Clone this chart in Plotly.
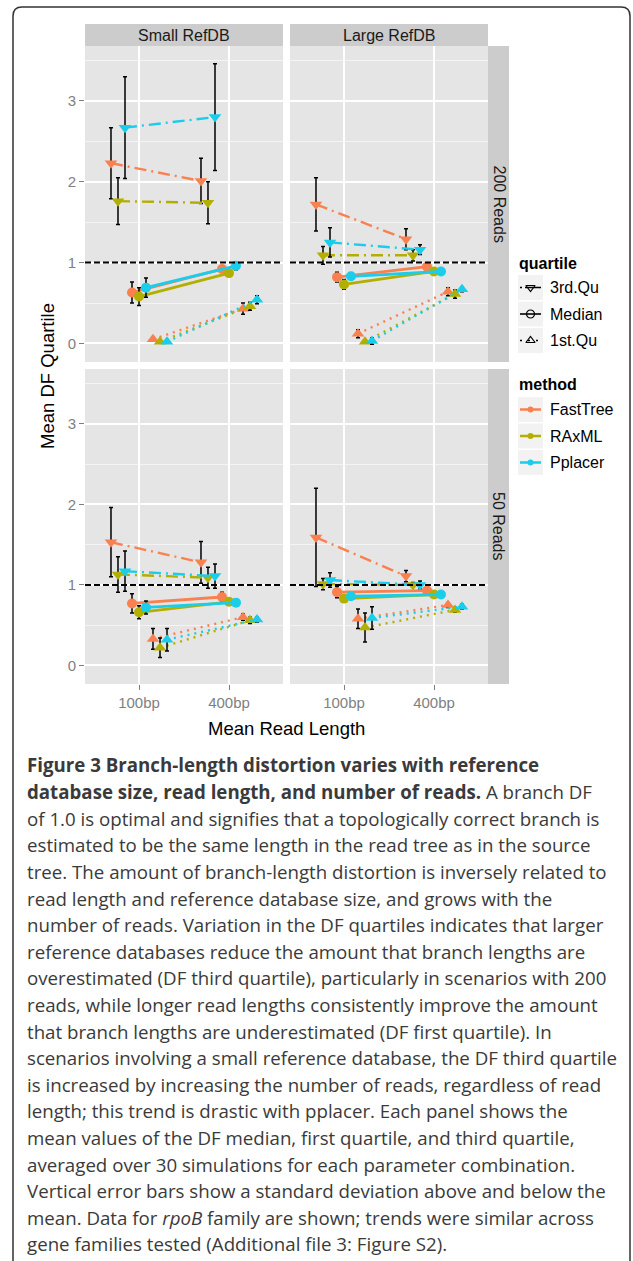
import plotly.graph_objects as go

# ---------------- data ----------------
methods = ["FastTree", "RAxML", "Pplacer"]
quartiles = ["3rd.Qu", "Median", "1st.Qu"]
read_lengths = ["100bp", "400bp"]
refdbs = ["Small RefDB", "Large RefDB"]
read_counts = ["200 Reads", "50 Reads"]

# rows: 3rd.Qu (FastTree, RAxML, Pplacer), Median (...), 1st.Qu (...); cols: 100bp, 400bp
small200_mean = [[2.23, 2.01], [1.76, 1.74], [2.67, 2.80],
                 [0.63, 0.92], [0.58, 0.87], [0.69, 0.96],
                 [0.05, 0.43], [0.02, 0.46], [0.02, 0.54]]
small200_sd = [[0.44, 0.28], [0.29, 0.26], [0.63, 0.66],
               [0.13, 0.03], [0.11, 0.03], [0.12, 0.05],
               [0.01, 0.07], [0.01, 0.05], [0.01, 0.05]]
large200_mean = [[1.72, 1.29], [1.09, 1.09], [1.25, 1.16],
                 [0.82, 0.95], [0.73, 0.89], [0.83, 0.89],
                 [0.12, 0.64], [0.02, 0.61], [0.03, 0.67]]
large200_sd = [[0.33, 0.13], [0.11, 0.07], [0.18, 0.06],
               [0.06, 0.02], [0.06, 0.02], [0.04, 0.02],
               [0.05, 0.05], [0.01, 0.05], [0.04, 0.03]]
small50_mean = [[1.53, 1.28], [1.13, 1.09], [1.17, 1.11],
                [0.77, 0.85], [0.66, 0.79], [0.72, 0.78],
                [0.33, 0.60], [0.22, 0.56], [0.32, 0.57]]
small50_sd = [[0.43, 0.26], [0.22, 0.13], [0.25, 0.15],
              [0.12, 0.06], [0.08, 0.03], [0.08, 0.03],
              [0.13, 0.04], [0.12, 0.04], [0.14, 0.03]]
large50_mean = [[1.59, 1.11], [1.01, 1.00], [1.06, 1.00],
                [0.91, 0.93], [0.83, 0.88], [0.86, 0.88],
                [0.58, 0.75], [0.47, 0.69], [0.59, 0.73]]
large50_sd = [[0.61, 0.07], [0.07, 0.03], [0.09, 0.05],
              [0.07, 0.02], [0.03, 0.02], [0.03, 0.02],
              [0.12, 0.03], [0.18, 0.03], [0.14, 0.03]]

caption_lines = [
    "<b>Figure 3 Branch-length distortion varies with reference</b>",
    "<b>database size, read length, and number of reads.</b> A branch DF",
    "of 1.0 is optimal and signifies that a topologically correct branch is",
    "estimated to be the same length in the read tree as in the source",
    "tree. The amount of branch-length distortion is inversely related to",
    "read length and reference database size, and grows with the",
    "number of reads. Variation in the DF quartiles indicates that larger",
    "reference databases reduce the amount that branch lengths are",
    "overestimated (DF third quartile), particularly in scenarios with 200",
    "reads, while longer read lengths consistently improve the amount",
    "that branch lengths are underestimated (DF first quartile). In",
    "scenarios involving a small reference database, the DF third quartile",
    "is increased by increasing the number of reads, regardless of read",
    "length; this trend is drastic with pplacer. Each panel shows the",
    "mean values of the DF median, first quartile, and third quartile,",
    "averaged over 30 simulations for each parameter combination.",
    "Vertical error bars show a standard deviation above and below the",
    "mean. Data for <i>rpoB</i> family are shown; trends were similar across",
    "gene families tested (Additional file 3: Figure S2).",
]

# ---------------- style ----------------
W, H = 633, 1261
colors = {"FastTree": "#F9804F", "RAxML": "#B3AF00", "Pplacer": "#1ACDEA"}
dashes = {"3rd.Qu": "12px,5px,2px,5px", "Median": "solid", "1st.Qu": "2px,5px"}
widths = {"3rd.Qu": 2.4, "Median": 2.8, "1st.Qu": 2.4}
symbols = {"3rd.Qu": "triangle-down", "Median": "circle", "1st.Qu": "triangle-up"}
DODGE = 0.0778
TXT = "Liberation Sans, Arial, sans-serif"


def px(x):
    return x / W


def py(y):
    return 1 - y / H


fig = go.Figure()

panels = [
    ("x", "y", small200_mean, small200_sd),
    ("x2", "y2", large200_mean, large200_sd),
    ("x3", "y3", small50_mean, small50_sd),
    ("x4", "y4", large50_mean, large50_sd),
]

for xa, ya, means, sds in panels:
    for qi, q in enumerate(quartiles):
        for mi, m in enumerate(methods):
            k = qi * 3 + mi
            off = (k - 4) * DODGE
            fig.add_trace(go.Scatter(
                x=[1 + off, 2 + off], y=means[k], xaxis=xa, yaxis=ya,
                mode="lines+markers", showlegend=False,
                line=dict(color=colors[m], width=widths[q], dash=dashes[q]),
                marker=dict(symbol=symbols[q], size=11 if q != "Median" else 10,
                            color=colors[m], line=dict(width=0)),
                error_y=dict(type="data", array=sds[k], color="black",
                             thickness=1.5, width=2),
                hoverinfo="skip",
            ))

# axes
xdom = [[px(85), px(283)], [px(290), px(488)]]
ydom = [[py(362), py(46)], [py(684), py(369)]]
axis_ids = [("xaxis", "yaxis", 0, 0), ("xaxis2", "yaxis2", 1, 0),
            ("xaxis3", "yaxis3", 0, 1), ("xaxis4", "yaxis4", 1, 1)]
layout_axes = {}
for i, (xn, yn, c, r) in enumerate(axis_ids):
    xref = "x" if i == 0 else f"x{i+1}"
    yref = "y" if i == 0 else f"y{i+1}"
    layout_axes[xn] = dict(
        domain=xdom[c], anchor=yref, range=[0.4, 2.6],
        tickvals=[1, 2], ticktext=read_lengths,
        showticklabels=(r == 1), ticks="outside" if r == 1 else "",
        ticklen=5, tickwidth=1.2, tickcolor="#7F7F7F",
        tickfont=dict(family=TXT, size=15, color="#7F7F7F"),
        showgrid=True, gridcolor="white", gridwidth=1.6,
        zeroline=False, showline=False, fixedrange=True,
    )
    layout_axes[yn] = dict(
        domain=ydom[r], anchor=xref, range=[-0.23, 3.68],
        tickvals=[0, 1, 2, 3], ticktext=["0", "1", "2", "3"],
        showticklabels=(c == 0), ticks="outside" if c == 0 else "",
        ticklen=5, tickwidth=1.2, tickcolor="#7F7F7F",
        tickfont=dict(family=TXT, size=15, color="#7F7F7F"),
        showgrid=True, gridcolor="white", gridwidth=1.6,
        minor=dict(tickvals=[0.5, 1.5, 2.5, 3.5], showgrid=True,
                   gridcolor="#F4F4F4", gridwidth=0.8, ticks=""),
        zeroline=False, showline=False, fixedrange=True,
    )

# legend helper axis (pixel units)
layout_axes["xaxis5"] = dict(domain=[px(518), px(543)], range=[518, 543],
                             anchor="y5", visible=False, fixedrange=True)
layout_axes["yaxis5"] = dict(domain=[py(480), py(270)], range=[480, 270],
                             anchor="x5", visible=False, fixedrange=True)

shapes = []
annotations = []

# panel backgrounds and reference lines
for i in range(4):
    xref = "x" if i == 0 else f"x{i+1}"
    yref = "y" if i == 0 else f"y{i+1}"
    shapes.append(dict(type="rect", xref=f"{xref} domain", yref=f"{yref} domain",
                       x0=0, x1=1, y0=0, y1=1, fillcolor="#E5E5E5",
                       line=dict(width=0), layer="below"))
    shapes.append(dict(type="line", xref=f"{xref} domain", yref=yref,
                       x0=0, x1=1, y0=1, y1=1,
                       line=dict(color="black", width=2, dash="6px,3px"),
                       layer="above"))

# strips
for c, lab in enumerate(refdbs):
    shapes.append(dict(type="rect", xref="paper", yref="paper",
                       x0=xdom[c][0], x1=xdom[c][1], y0=py(46), y1=py(24),
                       fillcolor="#CCCCCC", line=dict(width=0)))
    annotations.append(dict(text=lab, xref="paper", yref="paper",
                            x=(xdom[c][0] + xdom[c][1]) / 2, y=py(35),
                            showarrow=False, xanchor="center", yanchor="middle",
                            font=dict(family=TXT, size=16, color="#1A1A1A")))
for r, lab in enumerate(read_counts):
    shapes.append(dict(type="rect", xref="paper", yref="paper",
                       x0=px(488), x1=px(509), y0=ydom[r][0], y1=ydom[r][1],
                       fillcolor="#CCCCCC", line=dict(width=0)))
    annotations.append(dict(text=lab, xref="paper", yref="paper",
                            x=px(498.5), y=(ydom[r][0] + ydom[r][1]) / 2,
                            textangle=90, showarrow=False,
                            xanchor="center", yanchor="middle",
                            font=dict(family=TXT, size=16, color="#1A1A1A")))

# axis titles
annotations.append(dict(text="Mean Read Length", xref="paper", yref="paper",
                        x=px(286), y=py(729), showarrow=False,
                        xanchor="center", yanchor="middle",
                        font=dict(family=TXT, size=18.5, color="black")))
annotations.append(dict(text="Mean DF Quartile", xref="paper", yref="paper",
                        x=px(47), y=py(376), textangle=-90, showarrow=False,
                        xanchor="center", yanchor="middle",
                        font=dict(family=TXT, size=18.5, color="black")))

# legends (drawn on helper axis in pixel units)
q_centers = [287.5, 314, 340.5]
m_centers = [409.5, 436, 462.5]
annotations.append(dict(text="<b>quartile</b>", xref="paper", yref="paper",
                        x=px(517), y=py(263), showarrow=False,
                        xanchor="left", yanchor="middle",
                        font=dict(family=TXT, size=16, color="black")))
annotations.append(dict(text="<b>method</b>", xref="paper", yref="paper",
                        x=px(517), y=py(384), showarrow=False,
                        xanchor="left", yanchor="middle",
                        font=dict(family=TXT, size=16, color="black")))
for cy in q_centers + m_centers:
    shapes.append(dict(type="rect", xref="x5", yref="y5",
                       x0=518, x1=543, y0=cy - 12.5, y1=cy + 12.5,
                       fillcolor="#F2F2F2", line=dict(width=0), layer="below"))
key_dash = {"3rd.Qu": "2px,3px,16px,3px", "Median": "solid", "1st.Qu": "2px,6px"}
open_sym = {"3rd.Qu": "triangle-down-open", "Median": "circle-open",
            "1st.Qu": "triangle-up-open"}
for q, cy in zip(quartiles, q_centers):
    fig.add_trace(go.Scatter(x=[520, 541], y=[cy, cy], xaxis="x5", yaxis="y5",
                             mode="lines", showlegend=False, hoverinfo="skip",
                             line=dict(color="black", width=1.6, dash=key_dash[q])))
    fig.add_trace(go.Scatter(x=[530.5], y=[cy], xaxis="x5", yaxis="y5",
                             mode="markers", showlegend=False, hoverinfo="skip",
                             marker=dict(symbol=open_sym[q], size=8, color="black",
                                         line=dict(width=1.2, color="black"))))
    annotations.append(dict(text=q, xref="paper", yref="paper",
                            x=px(548), y=py(cy), showarrow=False,
                            xanchor="left", yanchor="middle",
                            font=dict(family=TXT, size=16, color="black")))
for m, cy in zip(methods, m_centers):
    fig.add_trace(go.Scatter(x=[520, 530.5, 541], y=[cy, cy, cy], xaxis="x5", yaxis="y5",
                             mode="lines", showlegend=False, hoverinfo="skip",
                             line=dict(color=colors[m], width=2.5)))
    fig.add_trace(go.Scatter(x=[530.5], y=[cy], xaxis="x5", yaxis="y5",
                             mode="markers", showlegend=False, hoverinfo="skip",
                             marker=dict(symbol="circle", size=6, color=colors[m])))
    annotations.append(dict(text=m, xref="paper", yref="paper",
                            x=px(548), y=py(cy), showarrow=False,
                            xanchor="left", yanchor="middle",
                            font=dict(family=TXT, size=16, color="black")))

# caption
for i, line in enumerate(caption_lines):
    annotations.append(dict(text=line, xref="paper", yref="paper",
                            x=px(25), y=py(765 + 26.6 * i), showarrow=False,
                            xanchor="left", yanchor="middle",
                            font=dict(family="Open Sans", size=18.7, color="#3A3A3A")))

# frame
fx0, fx1, fy0, r = 13, 630, 7, 9
path = (f"M {px(fx0)},{py(H)} L {px(fx0)},{py(fy0 + r)} "
        f"Q {px(fx0)},{py(fy0)} {px(fx0 + r)},{py(fy0)} "
        f"L {px(fx1 - r)},{py(fy0)} Q {px(fx1)},{py(fy0)} {px(fx1)},{py(fy0 + r)} "
        f"L {px(fx1)},{py(H)}")
shapes.append(dict(type="path", xref="paper", yref="paper", path=path,
                   line=dict(color="#333333", width=1.5)))

fig.update_layout(
    width=W, height=H, margin=dict(l=0, r=0, t=0, b=0),
    paper_bgcolor="white", plot_bgcolor="rgba(0,0,0,0)",
    showlegend=False, shapes=shapes, annotations=annotations,
    **layout_axes,
)

fig.write_html("out.html")
